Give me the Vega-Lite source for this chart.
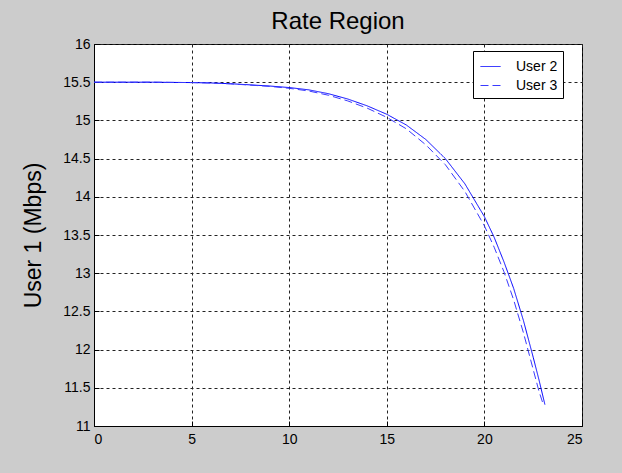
{
  "$schema": "https://vega.github.io/schema/vega-lite/v6.json",
  "width": 488,
  "height": 382,
  "autosize": {"type": "none"},
  "padding": {"left": 94, "top": 44, "right": 40, "bottom": 47},
  "background": "#cccccc",
  "title": {"text": "Rate Region", "font": "Liberation Sans", "fontSize": 24, "fontWeight": "normal", "color": "#000000", "offset": 3, "anchor": "middle"},
  "config": {
    "view": {"stroke": "#000000", "strokeWidth": 1, "fill": "#ffffff"},
    "axis": {
      "labelFont": "Liberation Sans", "labelFontSize": 14, "labelColor": "#000000",
      "titleFont": "Liberation Sans", "titleColor": "#000000", "titleFontWeight": "normal",
      "domainColor": "#000000", "tickColor": "#000000", "tickSize": -5,
      "gridColor": "#222222", "gridDash": [3, 3], "gridOpacity": 1, "gridWidth": 1
    }
  },
  "data": {"values": [
    {"series": "User 2", "x": 0, "y": 15.5},
    {"series": "User 2", "x": 3, "y": 15.5},
    {"series": "User 2", "x": 5, "y": 15.495},
    {"series": "User 2", "x": 6, "y": 15.49},
    {"series": "User 2", "x": 7, "y": 15.48},
    {"series": "User 2", "x": 8, "y": 15.465},
    {"series": "User 2", "x": 9, "y": 15.45},
    {"series": "User 2", "x": 10, "y": 15.43},
    {"series": "User 2", "x": 11, "y": 15.4},
    {"series": "User 2", "x": 12, "y": 15.35},
    {"series": "User 2", "x": 13, "y": 15.28},
    {"series": "User 2", "x": 14, "y": 15.19},
    {"series": "User 2", "x": 15, "y": 15.08},
    {"series": "User 2", "x": 16, "y": 14.94},
    {"series": "User 2", "x": 17, "y": 14.75},
    {"series": "User 2", "x": 18, "y": 14.5},
    {"series": "User 2", "x": 19, "y": 14.17},
    {"series": "User 2", "x": 20, "y": 13.74},
    {"series": "User 2", "x": 20.5, "y": 13.47},
    {"series": "User 2", "x": 21, "y": 13.15},
    {"series": "User 2", "x": 21.5, "y": 12.8},
    {"series": "User 2", "x": 22, "y": 12.38},
    {"series": "User 2", "x": 22.5, "y": 11.9},
    {"series": "User 2", "x": 22.8, "y": 11.6},
    {"series": "User 2", "x": 23.1, "y": 11.28},
    {"series": "User 3", "x": 0, "y": 15.5},
    {"series": "User 3", "x": 3, "y": 15.5},
    {"series": "User 3", "x": 5, "y": 15.495},
    {"series": "User 3", "x": 6, "y": 15.49},
    {"series": "User 3", "x": 7, "y": 15.478},
    {"series": "User 3", "x": 8, "y": 15.462},
    {"series": "User 3", "x": 9, "y": 15.445},
    {"series": "User 3", "x": 10, "y": 15.42},
    {"series": "User 3", "x": 11, "y": 15.385},
    {"series": "User 3", "x": 12, "y": 15.33},
    {"series": "User 3", "x": 13, "y": 15.255},
    {"series": "User 3", "x": 14, "y": 15.16},
    {"series": "User 3", "x": 15, "y": 15.04},
    {"series": "User 3", "x": 16, "y": 14.89},
    {"series": "User 3", "x": 17, "y": 14.68},
    {"series": "User 3", "x": 18, "y": 14.42},
    {"series": "User 3", "x": 19, "y": 14.07},
    {"series": "User 3", "x": 20, "y": 13.62},
    {"series": "User 3", "x": 20.5, "y": 13.34},
    {"series": "User 3", "x": 21, "y": 13.02},
    {"series": "User 3", "x": 21.5, "y": 12.65},
    {"series": "User 3", "x": 22, "y": 12.22},
    {"series": "User 3", "x": 22.5, "y": 11.74},
    {"series": "User 3", "x": 22.8, "y": 11.45},
    {"series": "User 3", "x": 23.02, "y": 11.28}
  ]},
  "mark": {"type": "line", "strokeWidth": 1, "clip": true},
  "encoding": {
    "x": {"field": "x", "type": "quantitative", "scale": {"domain": [0, 25], "nice": false, "zero": false},
      "axis": {"title": null, "values": [0, 5, 10, 15, 20, 25], "format": "d", "grid": true, "labelPadding": 11}},
    "y": {"field": "y", "type": "quantitative", "scale": {"domain": [11, 16], "nice": false, "zero": false},
      "axis": {"title": "User 1 (Mbps)", "titleFontSize": 23, "titlePadding": 17, "values": [11, 11.5, 12, 12.5, 13, 13.5, 14, 14.5, 15, 15.5, 16], "format": "~g", "grid": true, "labelPadding": 9}},
    "color": {"field": "series", "type": "nominal", "scale": {"domain": ["User 2", "User 3"], "range": ["#0000ff", "#3a3aff"]},
      "legend": {"title": null, "orient": "none", "legendX": 379, "legendY": 7, "fillColor": "#ffffff", "strokeColor": "#000000", "padding": 5,
        "labelFont": "Liberation Sans", "labelFontSize": 14, "labelColor": "#000000", "labelExpr": "datum.label + '   '", "symbolType": "stroke", "symbolSize": 400, "symbolStrokeWidth": 1, "symbolStrokeColor": "#0000ff", "symbolOffset": 2, "rowPadding": 1, "labelOffset": 15}},
    "strokeDash": {"field": "series", "type": "nominal", "scale": {"domain": ["User 2", "User 3"], "range": [[1, 0], [8, 4]]}}
  }
}
